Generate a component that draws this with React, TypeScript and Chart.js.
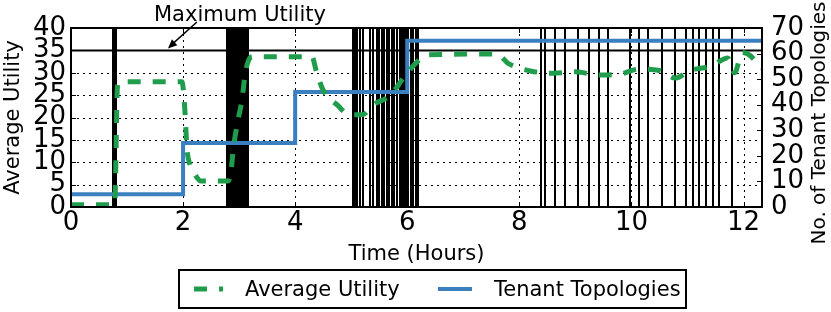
import React, { useEffect, useRef } from 'react';
import { Chart, registerables } from 'chart.js';

Chart.register(...registerables);

const FONT = '"DejaVu Sans", "Liberation Sans", sans-serif';

// ---- data ----
const xTicks = [0, 2, 4, 6, 8, 10, 12];
const utilTicks = [0, 5, 10, 15, 20, 25, 30, 35, 40];
const topoTicks = [0, 10, 20, 30, 40, 50, 60, 70];
const hourMax = 12.33;
const maxUtility = 35;

const utilHours = [
  0, 0.74, 0.78, 0.83, 0.88, 1.98, 2.03, 2.07, 2.12, 2.2, 2.32, 2.8, 2.85, 2.9, 2.98, 3.05, 3.11, 3.17,
  3.25, 4.3, 4.38, 4.5, 4.75, 4.98, 5.2, 5.39, 5.7, 5.93, 6.18, 6.36, 7.6, 7.8, 8.2, 8.6, 9.0, 9.4, 9.8,
  10.13, 10.5, 10.78, 11.05, 11.42, 11.72, 11.84, 11.98, 12.1, 12.33,
];
const utilValues = [
  0.5, 0.5, 0.6, 27, 28, 28, 22, 13, 9.5, 7.5, 5.8, 5.8, 7.5, 13.4, 19.4, 23.9, 29.9, 32.8,
  33.6, 33.6, 30.2, 26.1, 22.8, 20.6, 20.6, 22.8, 25.0, 28.8, 32.5, 34.0, 34.2, 32.1, 30.4, 29.9, 30.2, 29.5, 29.7,
  30.8, 30.5, 28.8, 30.5, 31.5, 33.3, 30.0, 34.5, 34.0, 31.0,
];

const topoHours = [0, 2, 4, 6, 12.33];
const topoValues = [5, 25, 45, 65, 65];

const eventTimes = [
  0.75, 0.77, 0.79, 0.81,
  2.79, 2.82, 2.85, 2.88, 2.91, 2.94, 2.97, 3.0, 3.03, 3.06, 3.09, 3.12, 3.15,
  5.04, 5.07, 5.11, 5.15, 5.21, 5.34, 5.39, 5.46, 5.5, 5.55, 5.59, 5.64, 5.68, 5.73, 5.77, 5.82, 5.87,
  5.91, 5.95, 5.98, 6.02, 6.07, 6.11, 6.16, 6.2,
  8.39, 8.45, 8.63, 8.82, 9.05, 9.25, 9.43, 9.58, 9.98, 10.14, 10.29, 10.55, 10.77, 10.98, 11.1, 11.2,
  11.33, 11.45, 11.56, 11.8,
];

const seriesNames = ['Average Utility', 'Tenant Topologies'];
const annotationText = 'Maximum Utility';
const rightTitle = 'No. of Tenant Topologies';

const GREEN = '#1f9d4c';
const BLUE = '#3a80c0';

const drawPlugin = {
  id: 'customDraw',
  beforeDatasetsDraw(chart: any) {
    const { ctx, chartArea: ca, scales } = chart;
    const xs = scales.x;
    const ys = scales.y;
    ctx.save();
    ctx.strokeStyle = '#000';
    ctx.lineWidth = 1;
    ctx.setLineDash([2, 4]);
    for (const v of utilTicks) {
      if (v === 0 || v === 40) continue;
      const py = Math.round(ys.getPixelForValue(v)) + 0.5;
      ctx.beginPath();
      ctx.moveTo(ca.left, py);
      ctx.lineTo(ca.right, py);
      ctx.stroke();
    }
    for (const v of xTicks) {
      if (v === 0) continue;
      const px = Math.round(xs.getPixelForValue(v)) + 0.5;
      ctx.beginPath();
      ctx.moveTo(px, ca.top);
      ctx.lineTo(px, ca.bottom);
      ctx.stroke();
    }
    ctx.setLineDash([]);
    ctx.lineWidth = 2;
    for (const t of eventTimes) {
      const px = Math.round(xs.getPixelForValue(t));
      ctx.beginPath();
      ctx.moveTo(px, ca.top);
      ctx.lineTo(px, ca.bottom);
      ctx.stroke();
    }
    ctx.restore();
  },
  afterDatasetsDraw(chart: any) {
    const { ctx, chartArea: ca, scales } = chart;
    const xs = scales.x;
    const ys = scales.y;
    const y2 = scales.y2;
    ctx.save();
    ctx.setLineDash([]);
    ctx.strokeStyle = '#000';
    // inward tick marks
    ctx.lineWidth = 1;
    const tl = 5;
    for (const v of xTicks) {
      if (v === 0) continue;
      const px = Math.round(xs.getPixelForValue(v)) + 0.5;
      ctx.beginPath();
      ctx.moveTo(px, ca.bottom);
      ctx.lineTo(px, ca.bottom - tl);
      ctx.moveTo(px, ca.top);
      ctx.lineTo(px, ca.top + tl);
      ctx.stroke();
    }
    for (const v of utilTicks) {
      if (v === 0 || v === 40) continue;
      const py = Math.round(ys.getPixelForValue(v)) + 0.5;
      ctx.beginPath();
      ctx.moveTo(ca.left, py);
      ctx.lineTo(ca.left + tl, py);
      ctx.stroke();
    }
    for (const v of topoTicks) {
      if (v === 0 || v === 70) continue;
      const py = Math.round(y2.getPixelForValue(v)) + 0.5;
      ctx.beginPath();
      ctx.moveTo(ca.right, py);
      ctx.lineTo(ca.right - tl, py);
      ctx.stroke();
    }
    // frame
    ctx.lineWidth = 2;
    ctx.strokeRect(ca.left, ca.top, ca.right - ca.left, ca.bottom - ca.top);

    // right axis title (reads bottom-to-top)
    ctx.fillStyle = '#000';
    ctx.font = `20px ${FONT}`;
    ctx.save();
    ctx.translate(820, 123);
    ctx.rotate(-Math.PI / 2);
    ctx.textAlign = 'center';
    ctx.textBaseline = 'middle';
    ctx.fillText(rightTitle, 0, 0);
    ctx.restore();

    // annotation
    ctx.font = `21px ${FONT}`;
    ctx.textAlign = 'left';
    ctx.textBaseline = 'alphabetic';
    ctx.fillText(annotationText, 154, 21);
    const tipX = xs.getPixelForValue(1.73);
    const tipY = ys.getPixelForValue(maxUtility) - 2;
    const sx = tipX + 29;
    const sy = 22;
    ctx.lineWidth = 1.5;
    ctx.beginPath();
    ctx.moveTo(sx, sy);
    ctx.lineTo(tipX + 4, tipY - 4);
    ctx.stroke();
    const ang = Math.atan2(tipY - sy, tipX - sx);
    const hl = 9;
    const hw = 4;
    ctx.beginPath();
    ctx.moveTo(tipX, tipY);
    ctx.lineTo(tipX - hl * Math.cos(ang) + hw * Math.sin(ang), tipY - hl * Math.sin(ang) - hw * Math.cos(ang));
    ctx.lineTo(tipX - hl * Math.cos(ang) - hw * Math.sin(ang), tipY - hl * Math.sin(ang) + hw * Math.cos(ang));
    ctx.closePath();
    ctx.fill();

    // legend
    const lx = 179, ly = 270, lw = 507, lh = 38;
    ctx.fillStyle = '#fff';
    ctx.fillRect(lx, ly, lw, lh);
    ctx.lineWidth = 2;
    ctx.strokeStyle = '#000';
    ctx.strokeRect(lx, ly, lw, lh);
    const cy = ly + lh / 2;
    const ds = chart.data.datasets;
    ctx.strokeStyle = ds[0].borderColor;
    ctx.lineWidth = ds[0].borderWidth;
    ctx.setLineDash(ds[0].borderDash);
    ctx.beginPath();
    ctx.moveTo(194, cy);
    ctx.lineTo(223, cy);
    ctx.stroke();
    ctx.setLineDash([]);
    ctx.strokeStyle = ds[1].borderColor;
    ctx.lineWidth = ds[1].borderWidth;
    ctx.beginPath();
    ctx.moveTo(438, cy);
    ctx.lineTo(472, cy);
    ctx.stroke();
    ctx.fillStyle = '#000';
    ctx.font = `21px ${FONT}`;
    ctx.fillText(ds[0].label, 245, cy + 7);
    ctx.fillText(ds[1].label, 494, cy + 7);
    ctx.restore();
  },
};

export default function App() {
  const ref = useRef<HTMLCanvasElement | null>(null);
  useEffect(() => {
    if (!ref.current) return;
    const chart = new Chart(ref.current, {
      type: 'line',
      data: {
        datasets: [
          {
            label: seriesNames[0],
            data: utilHours.map((h, i) => ({ x: h, y: utilValues[i] })),
            borderColor: GREEN,
            backgroundColor: GREEN,
            borderWidth: 5,
            borderDash: [13, 12],
            pointRadius: 0,
            cubicInterpolationMode: 'monotone',
            yAxisID: 'y',
          },
          {
            label: seriesNames[1],
            data: topoHours.map((h, i) => ({ x: h, y: topoValues[i] })),
            borderColor: BLUE,
            backgroundColor: BLUE,
            borderWidth: 4,
            stepped: 'before',
            pointRadius: 0,
            yAxisID: 'y2',
          },
          {
            label: 'max',
            data: [
              { x: 0, y: maxUtility },
              { x: hourMax, y: maxUtility },
            ],
            borderColor: '#000',
            borderWidth: 2,
            pointRadius: 0,
            yAxisID: 'y',
          },
        ],
      } as any,
      options: {
        animation: false,
        responsive: false,
        devicePixelRatio: 1,
        layout: { padding: { top: 28, bottom: 45, left: 0, right: 0 } },
        plugins: { legend: { display: false }, tooltip: { enabled: false } },
        scales: {
          x: {
            type: 'linear',
            min: 0,
            max: hourMax,
            afterBuildTicks: (s: any) => {
              s.ticks = xTicks.map((v) => ({ value: v }));
            },
            afterFit: (s: any) => {
              s.height = 60;
            },
            grid: { display: false, drawTicks: false },
            border: { display: false },
            ticks: { color: '#000', font: { family: FONT, size: 26 }, padding: 1, maxRotation: 0, autoSkip: false },
            title: { display: true, text: 'Time (Hours)', color: '#000', font: { family: FONT, size: 21 }, padding: 0 },
          },
          y: {
            type: 'linear',
            position: 'left',
            min: 0,
            max: 40,
            afterBuildTicks: (s: any) => {
              s.ticks = utilTicks.map((v) => ({ value: v }));
            },
            afterFit: (s: any) => {
              s.width = 71;
            },
            grid: { display: false, drawTicks: false },
            border: { display: false },
            ticks: { color: '#000', font: { family: FONT, size: 26 }, padding: 5, autoSkip: false },
            title: { display: true, text: 'Average Utility', color: '#000', font: { family: FONT, size: 21 }, padding: { top: 1, bottom: 1 } },
          },
          y2: {
            type: 'linear',
            position: 'right',
            min: 0,
            max: 70,
            afterBuildTicks: (s: any) => {
              s.ticks = topoTicks.map((v) => ({ value: v }));
            },
            afterFit: (s: any) => {
              s.width = 69;
            },
            grid: { display: false, drawTicks: false },
            border: { display: false },
            ticks: { color: '#000', font: { family: FONT, size: 26 }, padding: 9, autoSkip: false },
            title: { display: false },
          },
        },
      } as any,
      plugins: [drawPlugin],
    });
    return () => chart.destroy();
  }, []);
  return (
    <div style={{ position: 'fixed', left: 0, top: 0, width: 831, height: 312, background: '#fff' }}>
      <canvas ref={ref} width={831} height={312} style={{ display: 'block' }} />
    </div>
  );
}
